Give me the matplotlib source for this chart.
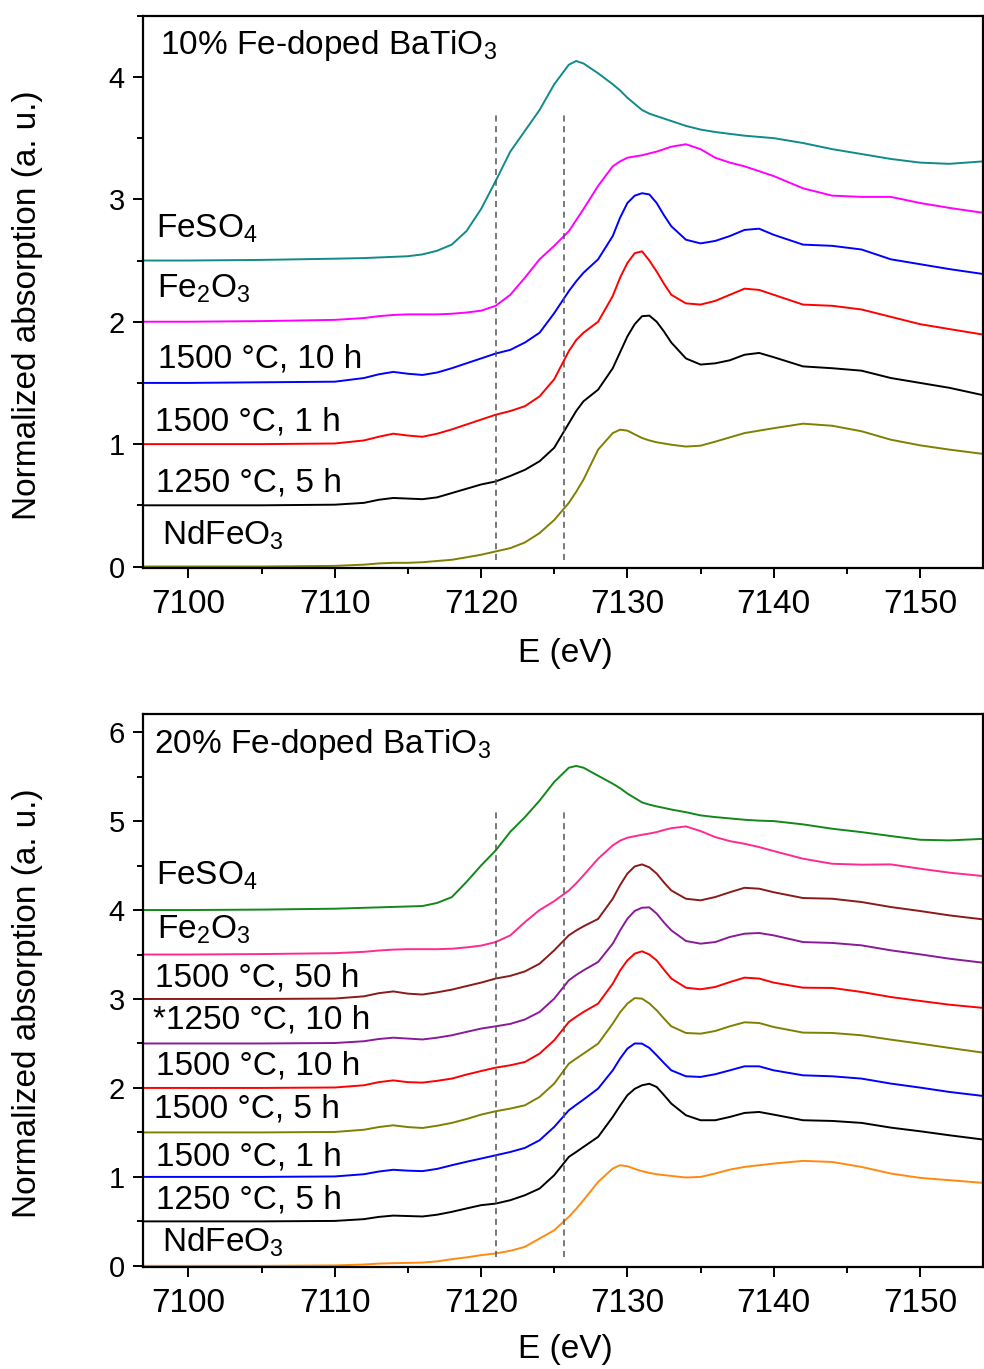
import matplotlib
matplotlib.use("Agg")
import matplotlib.pyplot as plt
from matplotlib.ticker import MultipleLocator

plt.rcParams['font.family'] = ['Liberation Sans', 'DejaVu Sans']
plt.rcParams['mathtext.fontset'] = 'custom'
plt.rcParams['mathtext.rm'] = 'Liberation Sans'
plt.rcParams['mathtext.default'] = 'regular'

# energy grid (eV) shared by all spectra
E = [7097, 7100, 7105, 7110, 7112, 7113, 7114, 7115, 7116, 7117, 7118, 7119, 7120,
     7121, 7122, 7123, 7124, 7125, 7126, 7126.5, 7127, 7128,
     7129, 7129.5, 7130, 7130.5, 7131, 7131.5, 7132, 7132.5, 7133,
     7134, 7135, 7136, 7137, 7138, 7139, 7140,
     7142, 7144, 7146, 7148, 7150, 7152, 7154.3]

# 10% Fe-doped BaTiO3 (stacked values)
t_feso4 = [2.50, 2.50, 2.505, 2.515, 2.52, 2.525, 2.53, 2.535, 2.55, 2.58, 2.63, 2.74, 2.92,
           3.15, 3.39, 3.56, 3.73, 3.94, 4.10, 4.13, 4.11, 4.03,
           3.94, 3.89, 3.83, 3.78, 3.73, 3.70, 3.68, 3.66, 3.64,
           3.60, 3.57, 3.55, 3.535, 3.52, 3.51, 3.50,
           3.46, 3.41, 3.37, 3.33, 3.30, 3.29, 3.31]
t_fe2o3 = [2.0, 2.0, 2.005, 2.015, 2.03, 2.045, 2.055, 2.06, 2.06, 2.06, 2.065, 2.075, 2.09,
           2.13, 2.22, 2.36, 2.51, 2.62, 2.74, 2.83, 2.92, 3.11,
           3.27, 3.31, 3.34, 3.35, 3.36, 3.375, 3.39, 3.41, 3.43,
           3.45, 3.41, 3.34, 3.30, 3.27, 3.23, 3.19,
           3.09, 3.03, 3.02, 3.02, 2.97, 2.93, 2.89]
t_1500_10 = [1.50, 1.50, 1.505, 1.51, 1.54, 1.57, 1.59, 1.575, 1.565, 1.585, 1.62, 1.66, 1.70,
             1.74, 1.77, 1.83, 1.91, 2.07, 2.25, 2.33, 2.40, 2.51,
             2.70, 2.85, 2.97, 3.03, 3.05, 3.04, 2.97, 2.87, 2.78,
             2.67, 2.64, 2.66, 2.70, 2.75, 2.76, 2.71,
             2.63, 2.62, 2.59, 2.51, 2.47, 2.43, 2.39]
t_1500_1 = [1.0, 1.0, 1.0, 1.005, 1.03, 1.06, 1.085, 1.07, 1.06, 1.085, 1.12, 1.16, 1.20,
            1.24, 1.27, 1.31, 1.39, 1.53, 1.76, 1.85, 1.91, 2.00,
            2.21, 2.36, 2.48, 2.56, 2.575, 2.50, 2.41, 2.31, 2.22,
            2.15, 2.14, 2.17, 2.22, 2.27, 2.26, 2.22,
            2.14, 2.13, 2.10, 2.04, 1.98, 1.94, 1.895]
t_1250_5 = [0.50, 0.50, 0.50, 0.505, 0.52, 0.545, 0.56, 0.555, 0.55, 0.565, 0.60, 0.635, 0.67,
            0.695, 0.74, 0.79, 0.86, 0.97, 1.17, 1.27, 1.35, 1.445,
            1.62, 1.75, 1.88, 1.98, 2.045, 2.05, 2.00, 1.92, 1.83,
            1.70, 1.65, 1.66, 1.685, 1.73, 1.745, 1.71,
            1.635, 1.62, 1.60, 1.54, 1.50, 1.46, 1.40]
t_ndfeo3 = [0.0, 0.0, 0.0, 0.005, 0.015, 0.025, 0.03, 0.03, 0.035, 0.045, 0.055, 0.075, 0.096,
            0.123, 0.15, 0.197, 0.273, 0.38, 0.52, 0.61, 0.71, 0.955,
            1.09, 1.118, 1.11, 1.08, 1.05, 1.03, 1.015, 1.005, 0.995,
            0.98, 0.987, 1.02, 1.055, 1.09, 1.11, 1.13,
            1.167, 1.15, 1.105, 1.036, 0.99, 0.955, 0.92]

# 20% Fe-doped BaTiO3
b_feso4 = [4.0, 4.0, 4.005, 4.015, 4.025, 4.03, 4.035, 4.04, 4.045, 4.08, 4.145, 4.315, 4.50,
           4.67, 4.88, 5.045, 5.23, 5.44, 5.60, 5.62, 5.60, 5.51,
           5.42, 5.37, 5.31, 5.26, 5.21, 5.185, 5.165, 5.148, 5.13,
           5.10, 5.064, 5.045, 5.03, 5.015, 5.005, 5.00,
           4.963, 4.914, 4.876, 4.832, 4.79, 4.783, 4.80]
b_fe2o3 = [3.5, 3.5, 3.505, 3.515, 3.53, 3.545, 3.555, 3.56, 3.56, 3.56, 3.565, 3.58, 3.60,
           3.64, 3.715, 3.865, 4.00, 4.10, 4.22, 4.30, 4.39, 4.577,
           4.727, 4.78, 4.813, 4.83, 4.846, 4.86, 4.876, 4.90, 4.92,
           4.94, 4.888, 4.82, 4.775, 4.745, 4.708, 4.663,
           4.577, 4.52, 4.51, 4.513, 4.465, 4.42, 4.382]
b_1500_50 = [3.0, 3.0, 3.0, 3.005, 3.03, 3.065, 3.085, 3.06, 3.05, 3.075, 3.105, 3.145, 3.184,
             3.23, 3.26, 3.31, 3.397, 3.547, 3.716, 3.77, 3.817, 3.90,
             4.127, 4.28, 4.41, 4.49, 4.513, 4.48, 4.41, 4.31, 4.22,
             4.127, 4.109, 4.146, 4.20, 4.25, 4.24, 4.20,
             4.135, 4.127, 4.09, 4.034, 3.989, 3.94, 3.895]
b_1250_10 = [2.5, 2.5, 2.5, 2.505, 2.525, 2.55, 2.565, 2.555, 2.545, 2.565, 2.592, 2.63, 2.667,
             2.693, 2.72, 2.77, 2.854, 3.004, 3.21, 3.27, 3.322, 3.416,
             3.622, 3.77, 3.903, 3.99, 4.026, 4.03, 3.96, 3.86, 3.772,
             3.652, 3.622, 3.64, 3.697, 3.734, 3.742, 3.715,
             3.64, 3.63, 3.603, 3.547, 3.502, 3.453, 3.408]
b_1500_10 = [2.0, 2.0, 2.0, 2.005, 2.03, 2.065, 2.085, 2.065, 2.06, 2.08, 2.105, 2.15, 2.19,
             2.228, 2.255, 2.292, 2.386, 2.536, 2.742, 2.80, 2.854, 2.948,
             3.172, 3.32, 3.434, 3.51, 3.536, 3.50, 3.434, 3.33, 3.23,
             3.127, 3.109, 3.135, 3.19, 3.24, 3.23, 3.184,
             3.127, 3.124, 3.079, 3.022, 2.978, 2.936, 2.90]
b_1500_5 = [1.5, 1.5, 1.5, 1.505, 1.53, 1.56, 1.58, 1.56, 1.55, 1.575, 1.607, 1.65, 1.70,
            1.738, 1.768, 1.805, 1.899, 2.049, 2.273, 2.33, 2.386, 2.498,
            2.723, 2.85, 2.948, 3.01, 3.004, 2.95, 2.873, 2.78, 2.693,
            2.618, 2.61, 2.64, 2.693, 2.738, 2.73, 2.685,
            2.622, 2.618, 2.592, 2.543, 2.498, 2.45, 2.397]
b_1500_1 = [1.0, 1.0, 1.0, 1.005, 1.03, 1.06, 1.08, 1.07, 1.065, 1.09, 1.131, 1.17, 1.206,
            1.243, 1.28, 1.326, 1.412, 1.562, 1.749, 1.81, 1.869, 1.993,
            2.198, 2.33, 2.442, 2.50, 2.498, 2.45, 2.367, 2.28, 2.198,
            2.131, 2.124, 2.154, 2.198, 2.243, 2.243, 2.198,
            2.142, 2.131, 2.105, 2.049, 2.004, 1.955, 1.91]
b_1250_5 = [0.5, 0.5, 0.5, 0.505, 0.525, 0.55, 0.565, 0.56, 0.555, 0.575, 0.607, 0.645, 0.682,
            0.70, 0.738, 0.794, 0.869, 1.019, 1.225, 1.28, 1.337, 1.45,
            1.674, 1.80, 1.918, 1.99, 2.03, 2.047, 2.011, 1.92, 1.824,
            1.693, 1.637, 1.637, 1.674, 1.719, 1.73, 1.70,
            1.637, 1.629, 1.607, 1.554, 1.513, 1.468, 1.42]
b_ndfeo3 = [0.0, 0.0, 0.0, 0.005, 0.015, 0.025, 0.03, 0.033, 0.037, 0.05, 0.075, 0.095, 0.12,
            0.14, 0.169, 0.214, 0.307, 0.40, 0.551, 0.64, 0.738, 0.944,
            1.094, 1.131, 1.12, 1.09, 1.064, 1.045, 1.03, 1.02, 1.011,
            0.993, 1.0, 1.038, 1.082, 1.112, 1.131, 1.15,
            1.18, 1.168, 1.112, 1.038, 0.989, 0.963, 0.933]

top_labels = ["FeSO$_4$", "Fe$_2$O$_3$", "1500 °C, 10 h", "1500 °C, 1 h",
              "1250 °C, 5 h", "NdFeO$_3$"]
bot_labels = ["FeSO$_4$", "Fe$_2$O$_3$", "1500 °C, 50 h", "*1250 °C, 10 h",
              "1500 °C, 10 h", "1500 °C, 5 h", "1500 °C, 1 h", "1250 °C, 5 h",
              "NdFeO$_3$"]
edge_lines = [7121.0, 7125.7]

top_series = [t_feso4, t_fe2o3, t_1500_10, t_1500_1, t_1250_5, t_ndfeo3]
top_colors = ['#108a8a', '#ff00ff', '#0000ff', '#ff0000', '#000000', '#808000']
top_text_xy = [(7097.76, 2.685), (7097.86, 2.20), (7097.95, 1.63), (7097.72, 1.11),
               (7097.76, 0.613), (7098.2, 0.183)]

bot_series = [b_feso4, b_fe2o3, b_1500_50, b_1250_10, b_1500_10, b_1500_5,
              b_1500_1, b_1250_5, b_ndfeo3]
bot_colors = ['#12881a', '#ff2a90', '#8b1a1a', '#8a1a9a', '#ff0000', '#808000',
              '#0000ff', '#000000', '#ff8a10']
bot_text_xy = [(7097.76, 4.285), (7097.86, 3.679), (7097.72, 3.135), (7097.57, 2.667),
               (7097.76, 2.154), (7097.68, 1.667), (7097.76, 1.131), (7097.76, 0.645),
               (7098.2, 0.157)]

fig = plt.figure(figsize=(9.84, 13.69), dpi=100)
ax1 = fig.add_axes([0.1453, 0.5853, 0.8537, 0.4032])
ax2 = fig.add_axes([0.1453, 0.0747, 0.8537, 0.4035])


def style(ax, ymax):
    ax.set_xlim(7096.9, 7154.3)
    ax.set_ylim(-0.01, ymax)
    ax.xaxis.set_major_locator(MultipleLocator(10))
    ax.xaxis.set_minor_locator(MultipleLocator(5))
    ax.yaxis.set_major_locator(MultipleLocator(1))
    ax.yaxis.set_minor_locator(MultipleLocator(0.5))
    ax.tick_params(which='both', direction='out', top=False, right=False, width=1.4)
    ax.tick_params(which='major', length=7)
    ax.tick_params(which='minor', length=4)
    ax.tick_params(axis='x', labelsize=24, pad=8)
    ax.tick_params(axis='y', labelsize=21, pad=6)
    for s in ax.spines.values():
        s.set_linewidth(1.6)


for ax, series, colors, labels, txy, ymax, dash in [
        (ax1, top_series, top_colors, top_labels, top_text_xy, 4.5, (0.05, 3.72)),
        (ax2, bot_series, bot_colors, bot_labels, bot_text_xy, 6.2, (0.10, 5.12))]:
    for y, c in zip(series, colors):
        ax.plot(E, y, color=c, lw=1.4, solid_joinstyle='round')
    for xe in edge_lines:
        ax.plot([xe, xe], list(dash), color='#555555', lw=1.1, ls=(0, (4, 3)))
    for lab, (tx, ty) in zip(labels, txy):
        ax.text(tx, ty, lab, fontsize=24, va='baseline', ha='left')
    style(ax, ymax)

ax1.text(7098.07, 4.184, "10% Fe-doped BaTiO$_3$", fontsize=24, va='baseline')
ax2.text(7097.63, 5.764, "20% Fe-doped BaTiO$_3$", fontsize=24, va='baseline')

for yc, xc in [(0.7772, 0.523), (0.2673, 0.0139)]:
    fig.text(28 / 984, yc, "Normalized absorption (a. u.)", rotation=90,
             ha='center', va='center', fontsize=24)
    fig.text(0.575, xc, "E (eV)", ha='center', va='center', fontsize=24)

fig.savefig("out.png", dpi=100)
